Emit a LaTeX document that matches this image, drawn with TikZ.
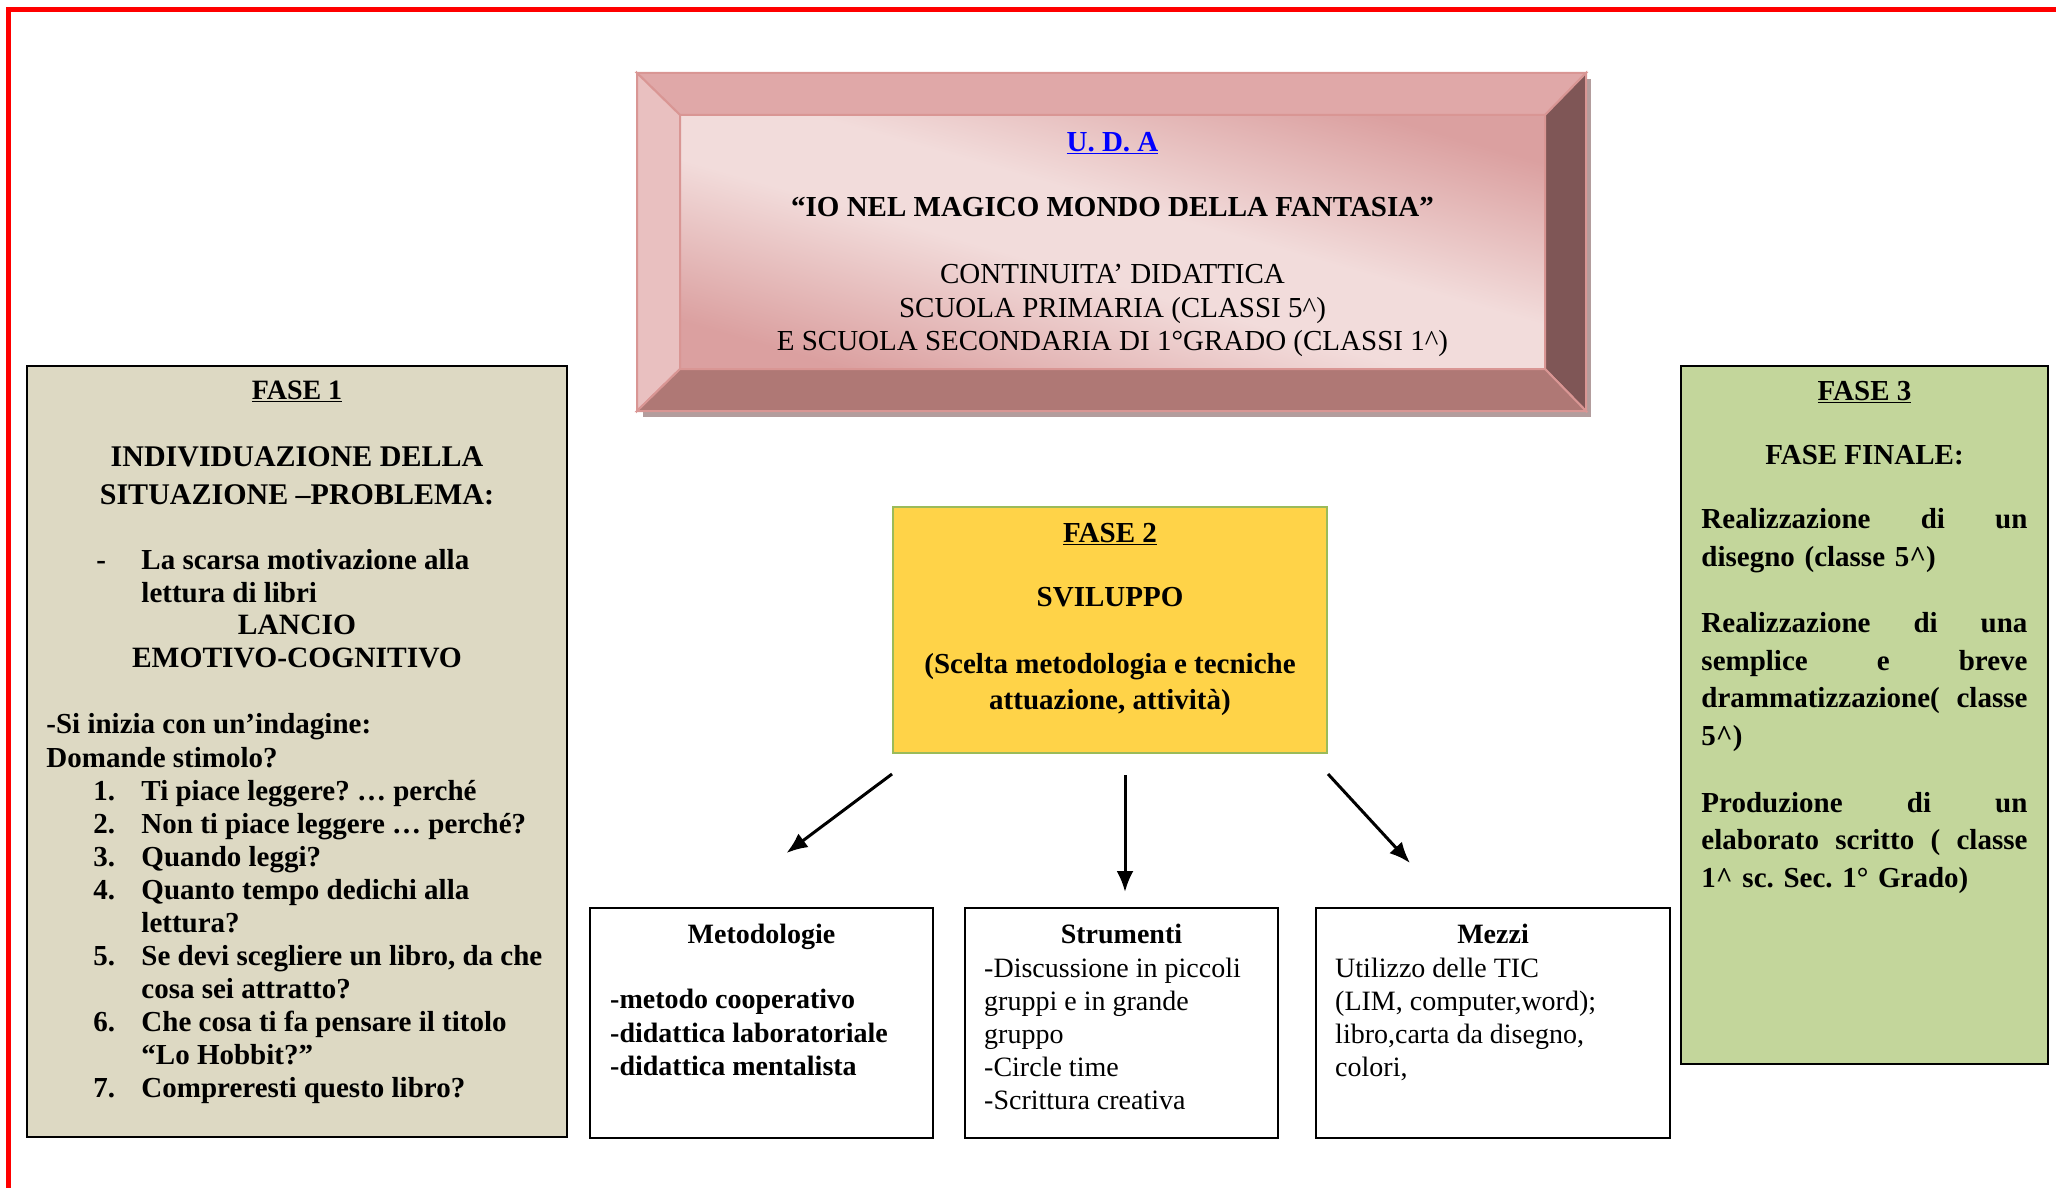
\documentclass[tikz,border=0pt]{standalone}
\usepackage{fontspec}
\setmainfont{Liberation Serif}
\usepackage{tikz}
\definecolor{framered}{RGB}{255,0,0}
\definecolor{faseonefill}{RGB}{221,217,195}
\definecolor{fasethreefill}{RGB}{195,214,155}
\definecolor{fasetwofill}{RGB}{255,211,72}
\definecolor{fasetwoline}{RGB}{155,187,89}
\definecolor{udaedge}{RGB}{217,150,148}
\definecolor{udatop}{RGB}{224,168,168}
\definecolor{udaleft}{RGB}{233,192,192}
\definecolor{udaright}{RGB}{127,86,86}
\definecolor{udabottom}{RGB}{175,120,117}
\definecolor{udalight}{RGB}{242,220,219}
\definecolor{udadark}{RGB}{219,160,160}
\definecolor{udashadow}{RGB}{179,157,157}
\definecolor{udablue}{RGB}{0,0,255}
\pgfdeclarehorizontalshading{udashade}{100bp}{color(0bp)=(udadark); color(25bp)=(udadark); color(45bp)=(udalight); color(55bp)=(udalight); color(75bp)=(udadark); color(100bp)=(udadark)}
\usetikzlibrary{
	arrows.meta,
	positioning
}
\frenchspacing
\newcommand{\fasenum}[1]{\makebox[48pt][l]{#1}}
\newcommand{\faseindent}{\hspace*{48pt}}
\tikzset{
	>={Latex[length=21pt, width=17pt]},
	redframe/.style={draw=framered, line width=5pt},
	bevel/.style={draw=udaedge, line width=2pt},
	phasebox/.style={rectangle, draw=black, line width=1.5pt, inner sep=0pt},
	toolbox/.style={rectangle, draw=black, line width=2pt, fill=white, minimum height=230pt, inner sep=0pt},
	plaintext/.style={inner sep=0pt, font=\fontsize{28}{33}\selectfont},
	boldtext/.style={inner sep=0pt, font=\fontsize{28}{33}\selectfont\bfseries},
	widebold/.style={inner sep=0pt, font=\fontsize{29}{33}\selectfont\bfseries},
	bigtext/.style={inner sep=0pt, font=\fontsize{29}{33.5}\selectfont},
	bigbold/.style={inner sep=0pt, font=\fontsize{29}{33.5}\selectfont\bfseries},
	flow/.style={->, line width=3pt}
}

\begin{document}
\begin{tikzpicture}[x=1pt, y=-1pt]
	\useasboundingbox (0,0) rectangle (2056,1188);
	\draw[redframe] (8.5,1188) -- (8.5,9.5) -- (2056,9.5);
	\begin{scope}
		\fill[udashadow] (643,79) rectangle (1591,417);
		\node[rectangle, inner sep=0pt, minimum width=865pt, minimum height=254pt, shading=udashade, shading angle=74] (uda) at (1112.5,242) {};
		\filldraw[bevel, fill=udatop] (637,73) -- (1586,73) -- (1545,115) -- (680,115) -- cycle;
		\filldraw[bevel, fill=udaleft] (637,73) -- (680,115) -- (680,369) -- (637,411) -- cycle;
		\filldraw[bevel, fill=udaright] (1586,73) -- (1586,411) -- (1545,369) -- (1545,115) -- cycle;
		\filldraw[bevel, fill=udabottom] (637,411) -- (1586,411) -- (1545,369) -- (680,369) -- cycle;
	\end{scope}
	\node[bigbold, text=udablue, below=17.4pt of uda.north] (udatitle) {\underline{U. D. A}};
	\node[bigbold, below=82.4pt of uda.north] (udaname) {“IO NEL MAGICO MONDO DELLA FANTASIA”};
	\node[bigtext, align=center, below=149.4pt of uda.north] (udaschool) {CONTINUITA’ DIDATTICA\\SCUOLA PRIMARIA (CLASSI 5\textasciicircum)\\E SCUOLA SECONDARIA DI 1°GRADO (CLASSI 1\textasciicircum)};

	\node[phasebox, fill=faseonefill, minimum width=540pt, minimum height=771pt] (fase1) at (297,751.5) {};
	\node[boldtext, below=16pt of fase1.north] (fase1title) {\underline{FASE 1}};
	\node[widebold, align=center, font=\fontsize{30}{38}\selectfont\bfseries, below=81pt of fase1.north] (fase1head) {INDIVIDUAZIONE DELLA\\SITUAZIONE –PROBLEMA:};
	\node[widebold, align=left, below right=184pt and 70pt of fase1.north west] (fase1problem) {\makebox[45pt][l]{-}La scarsa motivazione alla\\\hspace*{45pt}lettura di libri};
	\node[widebold, align=center, font=\fontsize{29.5}{33}\selectfont\bfseries, below=250pt of fase1.north] (fase1launch) {LANCIO\\EMOTIVO-COGNITIVO};
	\node[widebold, align=left, font=\fontsize{29}{34}\selectfont\bfseries, below right=348pt and 20pt of fase1.north west] (fase1intro) {-Si inizia con un’indagine:\\Domande stimolo?};
	\node[widebold, align=left, below right=415pt and 67pt of fase1.north west] (fase1list) {\fasenum{1.}Ti piace leggere? … perché\\\fasenum{2.}Non ti piace leggere … perché?\\\fasenum{3.}Quando leggi?\\\fasenum{4.}Quanto tempo dedichi alla\\\faseindent lettura?\\\fasenum{5.}Se devi scegliere un libro, da che\\\faseindent cosa sei attratto?\\\fasenum{6.}Che cosa ti fa pensare il titolo\\\faseindent “Lo Hobbit?”\\\fasenum{7.}Compreresti questo libro?};

	\node[phasebox, draw=fasetwoline, line width=2pt, fill=fasetwofill, minimum width=434pt, minimum height=246pt] (fase2) at (1110,630) {};
	\node[bigbold, below=17.4pt of fase2.north] (fase2title) {\underline{FASE 2}};
	\node[bigbold, below=81.4pt of fase2.north] (fase2head) {SVILUPPO};
	\node[bigbold, align=center, font=\fontsize{29}{36.5}\selectfont\bfseries, below=147pt of fase2.north] (fase2text) {(Scelta metodologia e tecniche\\attuazione, attività)};

	\node[phasebox, fill=fasethreefill, minimum width=367pt, minimum height=698pt] (fase3) at (1864.5,715) {};
	\node[bigbold, below=16pt of fase3.north] (fase3title) {\underline{FASE 3}};
	\node[bigbold, below=80pt of fase3.north] (fase3head) {FASE FINALE:};
	\node[bigbold, text width=326pt, align=left, font=\fontsize{29}{37.6}\selectfont\bfseries, below right=143pt and 21pt of fase3.north west] (fase3text) {Realizzazione\hfill di\hfill un\\disegno (classe 5\textasciicircum)\\[29pt]Realizzazione\hfill di\hfill una\\semplice\hfill e\hfill breve\\drammatizzazione(\hfill classe\\5\textasciicircum)\\[29pt]Produzione\hfill di\hfill un\\elaborato\hfill scritto\hfill (\hfill classe\\1\textasciicircum{} sc. Sec. 1° Grado)};

	\node[toolbox, minimum width=343pt] (metodi) at (761.5,1023) {};
	\node[boldtext, below=17pt of metodi.north] (metodititle) {Metodologie};
	\node[boldtext, align=left, font=\fontsize{28}{33.5}\selectfont\bfseries, below right=82pt and 21pt of metodi.north west] (metodilist) {-metodo cooperativo\\-didattica laboratoriale\\-didattica mentalista};
	\node[toolbox, minimum width=313pt] (strumenti) at (1121.5,1023) {};
	\node[boldtext, below=17pt of strumenti.north] (strumentititle) {Strumenti};
	\node[plaintext, align=left, below right=51pt and 20pt of strumenti.north west] (strumentilist) {-Discussione in piccoli\\gruppi e in grande\\gruppo\\-Circle time\\-Scrittura creativa};
	\node[toolbox, minimum width=354pt] (mezzi) at (1493,1023) {};
	\node[boldtext, below=17pt of mezzi.north] (mezzititle) {Mezzi};
	\node[plaintext, align=left, below right=51pt and 20pt of mezzi.north west] (mezzilist) {Utilizzo delle TIC\\(LIM, computer,word);\\libro,carta da disegno,\\colori,};

	\draw[flow] ([yshift=-20pt]fase2.south west) -- ([xshift=25pt,yshift=54pt]metodi.north);
	\draw[flow] ([xshift=15pt,yshift=-21pt]fase2.south) -- ([xshift=3.5pt,yshift=15pt]strumenti.north);
	\draw[flow] ([yshift=-20pt]fase2.south east) -- ([xshift=-83pt,yshift=44pt]mezzi.north);
\end{tikzpicture}
\end{document}
